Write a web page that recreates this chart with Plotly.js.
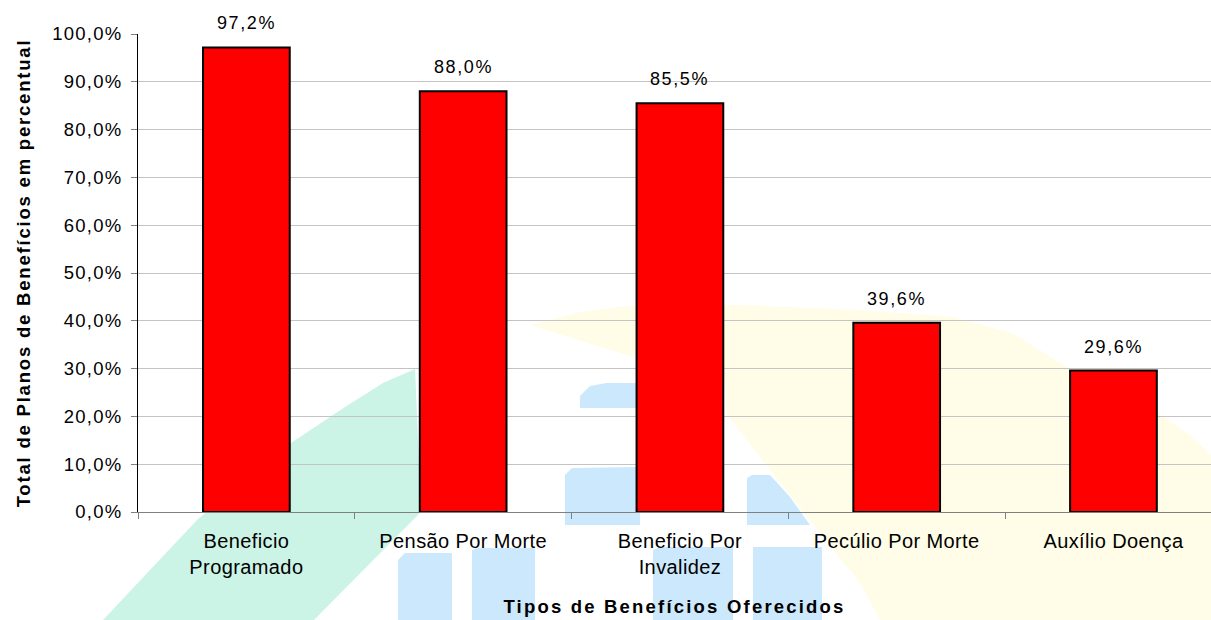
<!DOCTYPE html>
<html>
<head>
<meta charset="utf-8">
<script src="https://cdn.plot.ly/plotly-3.0.1.min.js"></script>
<style>
html, body { margin: 0; padding: 0; background: #ffffff; }
#chart { width: 1211px; height: 620px; }
#chart .xtick text { letter-spacing: 0.4px; }
#chart .ytick text { letter-spacing: 1.2px; }
#chart .annotation-text { letter-spacing: 1.6px; }
#chart .g-xtitle text { letter-spacing: 2.2px; }
#chart .g-ytitle text { letter-spacing: 1.8px; }
</style>
</head>
<body>
<div id="chart"></div>
<script>
// ---- data ----
const categories = ['Beneficio Programado', 'Pensão Por Morte', 'Beneficio Por Invalidez', 'Pecúlio Por Morte', 'Auxílio Doença'];
const tickLabels = ['Beneficio<br>Programado', 'Pensão Por Morte', 'Beneficio Por<br>Invalidez', 'Pecúlio Por Morte', 'Auxílio Doença'];
const values = [97.2, 88.0, 85.5, 39.6, 29.6];
const yTickVals = [0, 10, 20, 30, 40, 50, 60, 70, 80, 90, 100];
const yTickLabels = ['0,0%', '10,0%', '20,0%', '30,0%', '40,0%', '50,0%', '60,0%', '70,0%', '80,0%', '90,0%', '100,0%'];
const xTitle = 'Tipos de Benefícios Oferecidos';
const yTitle = 'Total de Planos de Benefícios em percentual';

// ---- decorative watermark (background logo), in pixel space of the 1211x620 page ----
const PL = 138, PR = 1211, PT = 34, PB = 512;
function pathFromPx(pts) {
  return pts.map((p, i) => (i ? 'L' : 'M') + ((p[0] - PL) / (PR - PL)).toFixed(4) + ',' + ((PB - p[1]) / (PB - PT)).toFixed(4)).join(' ') + ' Z';
}
const wmYellow = [[530,325],[580,312],[636,305],[736,305],[860,310],[953,317],[1012,333],[1067,367],[1110,390],[1158,413],[1190,435],[1211,455],[1211,620],[880,620],[860,583],[807,517],[727,415],[723,357],[633,357]];
const wmGreen = [[103,620],[197,520],[250,475],[291,443],[345,407],[383,383],[415,369],[421,512],[314,620]];
const wmBlue = [
  [[580,408],[580,396],[590,386],[606,383],[640,383],[640,408]],
  [[565,525],[565,475],[572,468],[640,467],[640,525]],
  [[747,525],[747,478],[752,475],[770,475],[790,497],[810,525]],
  [[398,620],[398,560],[405,553],[452,553],[452,620]],
  [[472,620],[472,550],[478,548],[535,548],[535,620]],
  [[653,620],[653,550],[660,547],[733,547],[733,620]],
  [[753,620],[753,547],[822,547],[822,620]]
];
const shapes = [];
function addShape(pts, color) {
  shapes.push({type: 'path', xref: 'paper', yref: 'paper', path: pathFromPx(pts), fillcolor: color, line: {width: 0}, layer: 'below'});
}
addShape(wmYellow, 'rgb(255,253,231)');
addShape(wmGreen, 'rgb(204,244,230)');
wmBlue.forEach(b => addShape(b, 'rgb(204,232,252)'));

const FONT = 'Liberation Sans, Arial, sans-serif';

const trace = {
  type: 'bar',
  x: categories,
  y: values,
  width: 0.4,
  marker: {color: '#ff0000', line: {color: '#000000', width: 2}},
  hoverinfo: 'none'
};

const annotations = categories.map((c, i) => ({
  x: c, y: values[i], xref: 'x', yref: 'y',
  text: values[i].toFixed(1).replace('.', ',') + '%',
  showarrow: false, yanchor: 'bottom', yshift: 12,
  font: {family: FONT, size: 18, color: '#000000'}
}));

const layout = {
  width: 1211, height: 620,
  margin: {l: PL, r: 0, t: PT, b: 620 - PB, pad: 0},
  paper_bgcolor: '#ffffff',
  plot_bgcolor: 'rgba(0,0,0,0)',
  showlegend: false,
  shapes: shapes,
  annotations: annotations,
  xaxis: {
    type: 'category',
    range: [-0.5, 4.45],
    tickvals: categories,
    ticktext: tickLabels,
    tickson: 'boundaries',
    ticks: 'outside', ticklen: 6, tickwidth: 1, tickcolor: '#808080',
    ticklabelstandoff: 11,
    showline: true, linecolor: '#808080', linewidth: 1,
    showgrid: false, zeroline: false,
    tickfont: {family: FONT, size: 20, color: '#000000'},
    title: {text: xTitle, font: {family: FONT, size: 18.5, color: '#000000', weight: 'bold'}, standoff: 23},
    fixedrange: true
  },
  yaxis: {
    range: [0, 100],
    tickvals: yTickVals,
    ticktext: yTickLabels,
    ticks: 'outside', ticklen: 6, tickwidth: 1, tickcolor: '#808080',
    ticklabelstandoff: 5,
    showline: true, linecolor: '#000000', linewidth: 1,
    showgrid: true, gridcolor: '#c4c4c4', gridwidth: 1,
    zeroline: false,
    tickfont: {family: FONT, size: 18.5, color: '#000000'},
    title: {text: yTitle, font: {family: FONT, size: 18.5, color: '#000000', weight: 'bold'}, standoff: 24},
    fixedrange: true
  }
};

Plotly.newPlot('chart', [trace], layout, {displayModeBar: false, staticPlot: true});
</script>
</body>
</html>
